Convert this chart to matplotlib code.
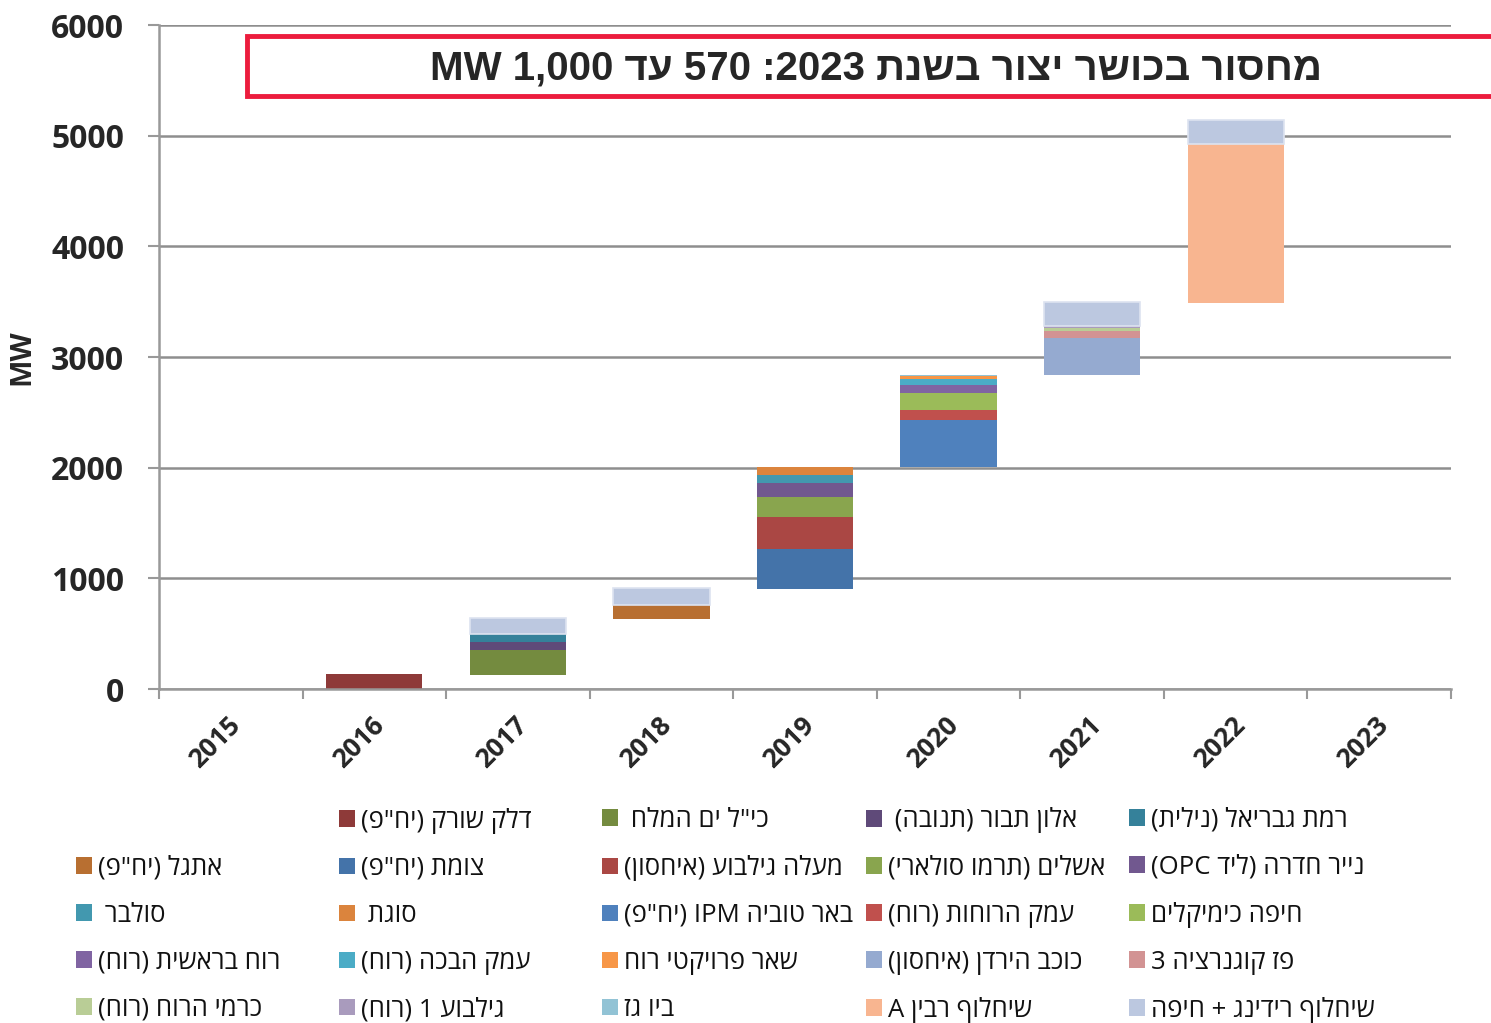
import re
import numpy as np
import matplotlib
matplotlib.use("Agg")
import matplotlib.pyplot as plt
import matplotlib.transforms as mtransforms
from matplotlib.patches import Patch, Rectangle

W, H = 1491, 1023

years = ["2015", "2016", "2017", "2018", "2019", "2020", "2021", "2022", "2023"]

# invisible base of the waterfall
base = [0, 0, 126, 632, 903, 2005, 2833, 3490, 0]

# MW added per year, one list per project
delek_sorek = [0, 135, 0, 0, 0, 0, 0, 0, 0]
icl_dead_sea = [0, 0, 229, 0, 0, 0, 0, 0, 0]
alon_tavor = [0, 0, 70, 0, 0, 0, 0, 0, 0]
ramat_gavriel = [0, 0, 75, 0, 0, 0, 0, 0, 0]
etgal = [0, 0, 0, 127, 0, 0, 0, 0, 0]
tzomet = [0, 0, 0, 0, 362, 0, 0, 0, 0]
maale_gilboa = [0, 0, 0, 0, 289, 0, 0, 0, 0]
ashalim = [0, 0, 0, 0, 180, 0, 0, 0, 0]
hadera_paper = [0, 0, 0, 0, 127, 0, 0, 0, 0]
solbar = [0, 0, 0, 0, 72, 0, 0, 0, 0]
sugat = [0, 0, 0, 0, 72, 0, 0, 0, 0]
beer_tuvia = [0, 0, 0, 0, 0, 428, 0, 0, 0]
emek_haruchot = [0, 0, 0, 0, 0, 87, 0, 0, 0]
haifa_chem = [0, 0, 0, 0, 0, 154, 0, 0, 0]
ruach_bereshit = [0, 0, 0, 0, 0, 72, 0, 0, 0]
emek_habacha = [0, 0, 0, 0, 0, 54, 0, 0, 0]
other_wind = [0, 0, 0, 0, 0, 30, 0, 0, 0]
kochav_hayarden = [0, 0, 0, 0, 0, 0, 340, 0, 0]
paz_cogen = [0, 0, 0, 0, 0, 0, 61, 0, 0]
karmei_haruach = [0, 0, 0, 0, 0, 0, 27, 0, 0]
gilboa_1 = [0, 0, 0, 0, 0, 0, 18, 0, 0]
bio_gas = [0, 0, 0, 0, 5, 5, 0, 0, 0]
rabin_a = [0, 0, 0, 0, 0, 0, 0, 1437, 0]
reading_haifa = [0, 0, 139, 150, 0, 0, 214, 216, 0]

names = [
    'דלק שורק (יח"פ)', 'כי"ל ים המלח ', 'אלון תבור (תנובה) ', 'רמת גבריאל (נילית)',
    'אתגל (יח"פ)', 'צומת (יח"פ)', 'מעלה גילבוע (איחסון)', 'אשלים (תרמו סולארי)',
    'נייר חדרה (ליד OPC)', 'סולבר ', 'סוגת ', 'באר טוביה IPM (יח"פ)',
    'עמק הרוחות (רוח)', 'חיפה כימיקלים', 'רוח בראשית (רוח)', 'עמק הבכה (רוח)',
    'שאר פרויקטי רוח', 'כוכב הירדן (איחסון)', 'פז קוגנרציה 3', 'כרמי הרוח (רוח)',
    'גילבוע 1 (רוח)', 'ביו גז', 'שיחלוף רבין A', 'שיחלוף רידינג + חיפה',
]
colors = [
    "#8E3A39", "#748B3F", "#5F4A79", "#35819A",
    "#B86F31", "#4473A9", "#AA4744", "#89A54E",
    "#71588F", "#4298AF", "#DB843D", "#4F81BD",
    "#C0504D", "#9BBB59", "#8064A2", "#4BACC6",
    "#F79646", "#95AAD0", "#D29393", "#B9CD96",
    "#A99BBD", "#92C3D5", "#F8B590", "#BCC8E0",
]
series = [delek_sorek, icl_dead_sea, alon_tavor, ramat_gavriel, etgal, tzomet,
          maale_gilboa, ashalim, hadera_paper, solbar, sugat, beer_tuvia,
          emek_haruchot, haifa_chem, ruach_bereshit, emek_habacha, other_wind,
          kochav_hayarden, paz_cogen, karmei_haruach, gilboa_1, bio_gas,
          rabin_a, reading_haifa]

title = "מחסור בכושר יצור בשנת 2023: 570 עד 1,000 MW"


def rtl(s):
    # crude bidi: keep latin/number runs, reverse the rest, mirror brackets
    mirror = {"(": ")", ")": "("}
    parts = re.findall(r"[A-Za-z0-9]+(?:[.,][0-9]+)*|.", s)
    return "".join(mirror.get(p, p) for p in reversed(parts))


heb = ["Open Sans", "Liberation Sans", "DejaVu Sans"]
plt.rcParams["font.family"] = heb

fig = plt.figure(figsize=(W / 100, H / 100), dpi=100)
ax = fig.add_axes([159 / W, 1 - 689 / H, (1451 - 159) / W, (689 - 25) / H])

x = np.arange(len(years))
bottom = np.array(base, dtype=float)
ax.bar(x, base, width=0.67, color="none")
for vals, c in zip(series, colors):
    light = c == "#BCC8E0"
    lw = [1.2 if (light and v > 0) else 0 for v in vals]
    ax.bar(x, vals, bottom=bottom, width=0.67, color=c,
           edgecolor="#DDE3F0" if light else c, linewidth=lw)
    bottom += np.array(vals)

ax.set_xlim(-0.5, 8.5)
ax.set_ylim(0, 6000)
ax.set_yticks(range(0, 6001, 1000))
ax.set_yticklabels([str(v) for v in range(0, 6001, 1000)], fontsize=23,
                   fontweight="bold", color="#262626")
ax.tick_params(axis="y", length=8, width=1.5, color="#999999", pad=17)

ax.set_xticks(x)
ax.set_xticklabels(years, rotation=45, ha="right", va="top",
                   rotation_mode="anchor", fontsize=19, fontweight="bold",
                   color="#262626")
ax.tick_params(axis="x", which="major", length=0, pad=16)
ax.set_xticks(np.arange(-0.5, 9, 1), minor=True)
ax.tick_params(axis="x", which="minor", length=7, width=1.5, color="#999999")
shift = mtransforms.ScaledTranslation(-0.04, 0, fig.dpi_scale_trans)
for lab in ax.get_xticklabels():
    lab.set_transform(lab.get_transform() + shift)

ax.yaxis.grid(True, color="#8E8E8E", linewidth=1.8)
ax.set_axisbelow(True)
for s in ["top", "right"]:
    ax.spines[s].set_visible(False)
for s in ["left", "bottom"]:
    ax.spines[s].set_color("#999999")
    ax.spines[s].set_linewidth(1.8)

ax.set_ylabel("MW", fontsize=21, fontweight="bold", color="#262626")
ax.yaxis.set_label_coords(-0.095, 0.5)

# title box
fig.add_artist(Rectangle((247 / W, 1 - 96 / H), 1.0, 60 / H, transform=fig.transFigure,
                         facecolor="white", edgecolor="#EC1C3D", linewidth=3.5))
fig.text(876 / W, 1 - 69 / H, rtl(title), ha="center", va="center", fontsize=29,
         fontweight="bold", color="#262626", family=["Liberation Sans", "DejaVu Sans"])

# legend: 5 columns, filled row by row, first slot empty
handles = [Patch(facecolor="none", edgecolor="none")] + [Patch(facecolor=c) for c in colors]
labels = [" "] + [rtl(n) for n in names]
col_x = [76, 339, 602, 866, 1129]
for c in range(5):
    idx = list(range(c, 25, 5))
    fig.legend([handles[i] for i in idx], [labels[i] for i in idx],
               loc="center left", bbox_to_anchor=(col_x[c] / W, 1 - 915 / H),
               frameon=False, fontsize=18.5, borderpad=0, borderaxespad=0,
               handlelength=0.62, handleheight=0.62, handletextpad=0.22,
               labelspacing=0.86, labelcolor="#111111")

fig.savefig("out.png", dpi=100)
